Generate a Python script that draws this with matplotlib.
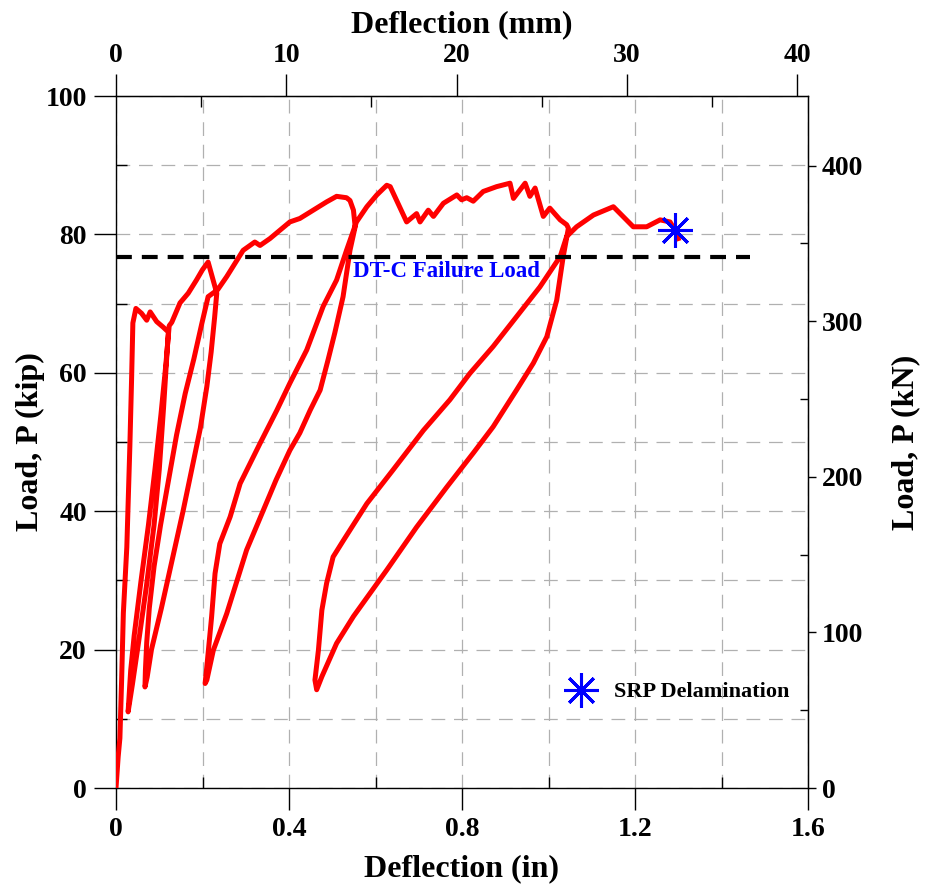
import numpy as np
import matplotlib.pyplot as plt
from matplotlib.ticker import MultipleLocator

# deflection (in) / load (kip) path
defl = [0.0, 0.005, 0.009, 0.013, 0.017, 0.025, 0.032, 0.036, 0.039, 0.046,
        0.059, 0.071, 0.079, 0.094, 0.109, 0.121,
        # unload / reload 1
        0.117, 0.110, 0.100, 0.088, 0.070, 0.052, 0.038, 0.028,
        0.029, 0.034, 0.042, 0.058, 0.075, 0.090, 0.104, 0.115, 0.123,
        0.129, 0.148, 0.167, 0.186, 0.200, 0.213, 0.233,
        # unload / reload 2
        0.228, 0.220, 0.210, 0.195, 0.175, 0.155, 0.130, 0.105, 0.082, 0.072, 0.067,
        0.068, 0.071, 0.077, 0.088, 0.103, 0.120, 0.140, 0.160, 0.180, 0.198, 0.213, 0.235,
        0.256, 0.275, 0.294, 0.321, 0.333, 0.356, 0.402, 0.425, 0.456, 0.487, 0.510,
        0.533, 0.541, 0.549, 0.553,
        # unload / reload 3
        0.541, 0.525, 0.506, 0.490, 0.472, 0.449, 0.425, 0.402, 0.370, 0.341, 0.302,
        0.256, 0.225, 0.210, 0.206,
        0.210, 0.221, 0.229, 0.240, 0.264, 0.287, 0.333, 0.372, 0.402, 0.441, 0.479,
        0.510, 0.533, 0.556, 0.580, 0.603, 0.626, 0.634, 0.672, 0.695, 0.703, 0.722,
        0.734, 0.757, 0.788, 0.799, 0.811, 0.826, 0.849, 0.880, 0.911, 0.919, 0.946,
        0.957, 0.969, 0.988, 1.003, 1.027, 1.042, 1.046,
        # unload / reload 4
        1.034, 1.019, 0.996, 0.965, 0.926, 0.872, 0.826, 0.765, 0.695, 0.626, 0.549,
        0.510, 0.476, 0.464,
        0.460, 0.468, 0.476, 0.487, 0.502, 0.526, 0.580, 0.641, 0.711, 0.772, 0.818,
        0.872, 0.926, 0.980, 1.027, 1.042, 1.065, 1.104, 1.150, 1.196, 1.227, 1.258,
        1.281, 1.296, 1.300]
load = [0.0, 4.5, 7.2, 15.6, 25.3, 34.8, 49.3, 59.0, 67.2, 69.3,
        68.6, 67.6, 68.8, 67.4, 66.6, 65.9,
        62.0, 55.0, 46.0, 38.0, 29.0, 21.0, 15.0, 11.0,
        12.0, 17.0, 22.0, 30.0, 38.0, 46.0, 54.0, 61.0, 66.8,
        67.3, 70.1, 71.5, 73.4, 74.9, 76.0, 71.5,
        68.0, 63.0, 58.0, 52.0, 46.0, 40.0, 33.0, 26.0, 20.0, 16.0, 14.6,
        17.0, 21.0, 26.0, 32.0, 38.0, 44.0, 51.0, 57.0, 62.0, 67.0, 71.0, 72.0,
        73.9, 75.8, 77.7, 78.9, 78.4, 79.4, 81.8, 82.3, 83.5, 84.7, 85.5,
        85.3, 84.9, 83.5, 81.1,
        77.7, 71.0, 65.8, 61.8, 57.5, 54.6, 51.3, 48.8, 44.5, 40.2, 34.4,
        25.2, 19.9, 15.6, 15.1,
        17.5, 24.7, 31.0, 35.3, 39.2, 44.0, 49.8, 54.6, 58.5, 63.3, 69.6,
        73.4, 77.7, 81.8, 84.0, 85.7, 87.1, 86.9, 81.8, 83.0, 81.8, 83.5,
        82.6, 84.5, 85.7, 85.0, 85.3, 84.8, 86.2, 86.9, 87.4, 85.2, 87.4,
        85.5, 86.7, 82.6, 83.8, 82.1, 81.4, 80.9,
        76.8, 70.5, 65.2, 61.4, 57.5, 52.2, 48.4, 43.5, 37.7, 31.5, 24.8,
        20.9, 16.1, 14.2,
        15.6, 19.9, 25.7, 29.6, 33.4, 35.8, 41.1, 46.0, 51.7, 56.1, 59.9,
        63.8, 68.1, 72.4, 76.8, 79.7, 81.1, 82.8, 84.0, 81.1, 81.1, 82.1,
        81.8, 80.2, 79.4]

failure_load = 76.7          # kip, DT-C
failure_xmax = 1.465
delam_defl = [1.293]
delam_load = [80.6]

IN_TO_MM = 25.4
KIP_TO_KN = 4.448

plt.rcParams['font.family'] = 'Liberation Serif'
plt.rcParams['font.weight'] = 'bold'

fig = plt.figure(figsize=(9.28, 8.94), dpi=100)
ax = fig.add_axes([116 / 928, 1 - 788 / 894, 692 / 928, 692 / 894])

ax.plot(defl, load, color='red', lw=3.6, solid_joinstyle='round', zorder=3)
ax.plot([0, failure_xmax], [failure_load, failure_load], color='black', lw=3.0,
        dashes=(3.8, 2.4), zorder=4)
ax.text(0.548, failure_load - 2.1, 'DT-C Failure Load', color='blue', fontsize=16.5,
        fontweight='bold', ha='left', va='center', zorder=5)
ax.plot(delam_defl, delam_load, linestyle='none', marker=(8, 2, 0), markersize=25,
        markeredgewidth=2.2, color='blue', label='SRP Delamination', zorder=6)

ax.set_xlim(0, 1.6)
ax.set_ylim(0, 100)
ax.xaxis.set_major_locator(MultipleLocator(0.4))
ax.xaxis.set_minor_locator(MultipleLocator(0.2))
ax.yaxis.set_major_locator(MultipleLocator(20))
ax.yaxis.set_minor_locator(MultipleLocator(10))
ax.set_xticklabels([f'{v:g}' for v in ax.get_xticks()])

grid_kw = dict(color='#b0b0b0', lw=0.9, dashes=(11, 7))
ax.grid(True, which='both', **grid_kw)
ax.set_axisbelow(True)

ax.tick_params(which='major', direction='out', length=16, width=1, labelsize=20, pad=5,
               top=False, right=False)
ax.tick_params(which='minor', direction='in', length=8, width=1, top=False, right=False)

ax.set_xlabel('Deflection (in)', fontsize=23, fontweight='bold', labelpad=9)
ax.set_ylabel('Load, P (kip)', fontsize=23, fontweight='bold', labelpad=0)

top = ax.secondary_xaxis('top', functions=(lambda x: x * IN_TO_MM, lambda x: x / IN_TO_MM))
top.set_xticks([0, 10, 20, 30, 40])
top.xaxis.set_minor_locator(MultipleLocator(5))
top.tick_params(which='major', direction='out', length=16, width=1, labelsize=20, pad=4)
top.tick_params(which='minor', direction='in', length=8, width=1)
top.set_xlabel('Deflection (mm)', fontsize=23, fontweight='bold', labelpad=8)

right = ax.secondary_yaxis('right', functions=(lambda y: y * KIP_TO_KN, lambda y: y / KIP_TO_KN))
right.set_yticks([0, 100, 200, 300, 400])
right.yaxis.set_minor_locator(MultipleLocator(50))
right.tick_params(which='major', direction='out', length=6, width=1, labelsize=20, pad=4)
right.tick_params(which='minor', direction='in', length=6, width=1)
right.set_ylabel('Load, P (kN)', fontsize=23, fontweight='bold', labelpad=20)

for sp in ax.spines.values():
    sp.set_linewidth(1.0)

ax.legend(loc='center left', bbox_to_anchor=(0.6465, 0.1387), frameon=False,
          borderpad=0, borderaxespad=0, handlelength=1.6, handletextpad=0.7,
          prop={'family': 'Liberation Serif', 'weight': 'bold', 'size': 16})

fig.savefig('out.png', dpi=100)
